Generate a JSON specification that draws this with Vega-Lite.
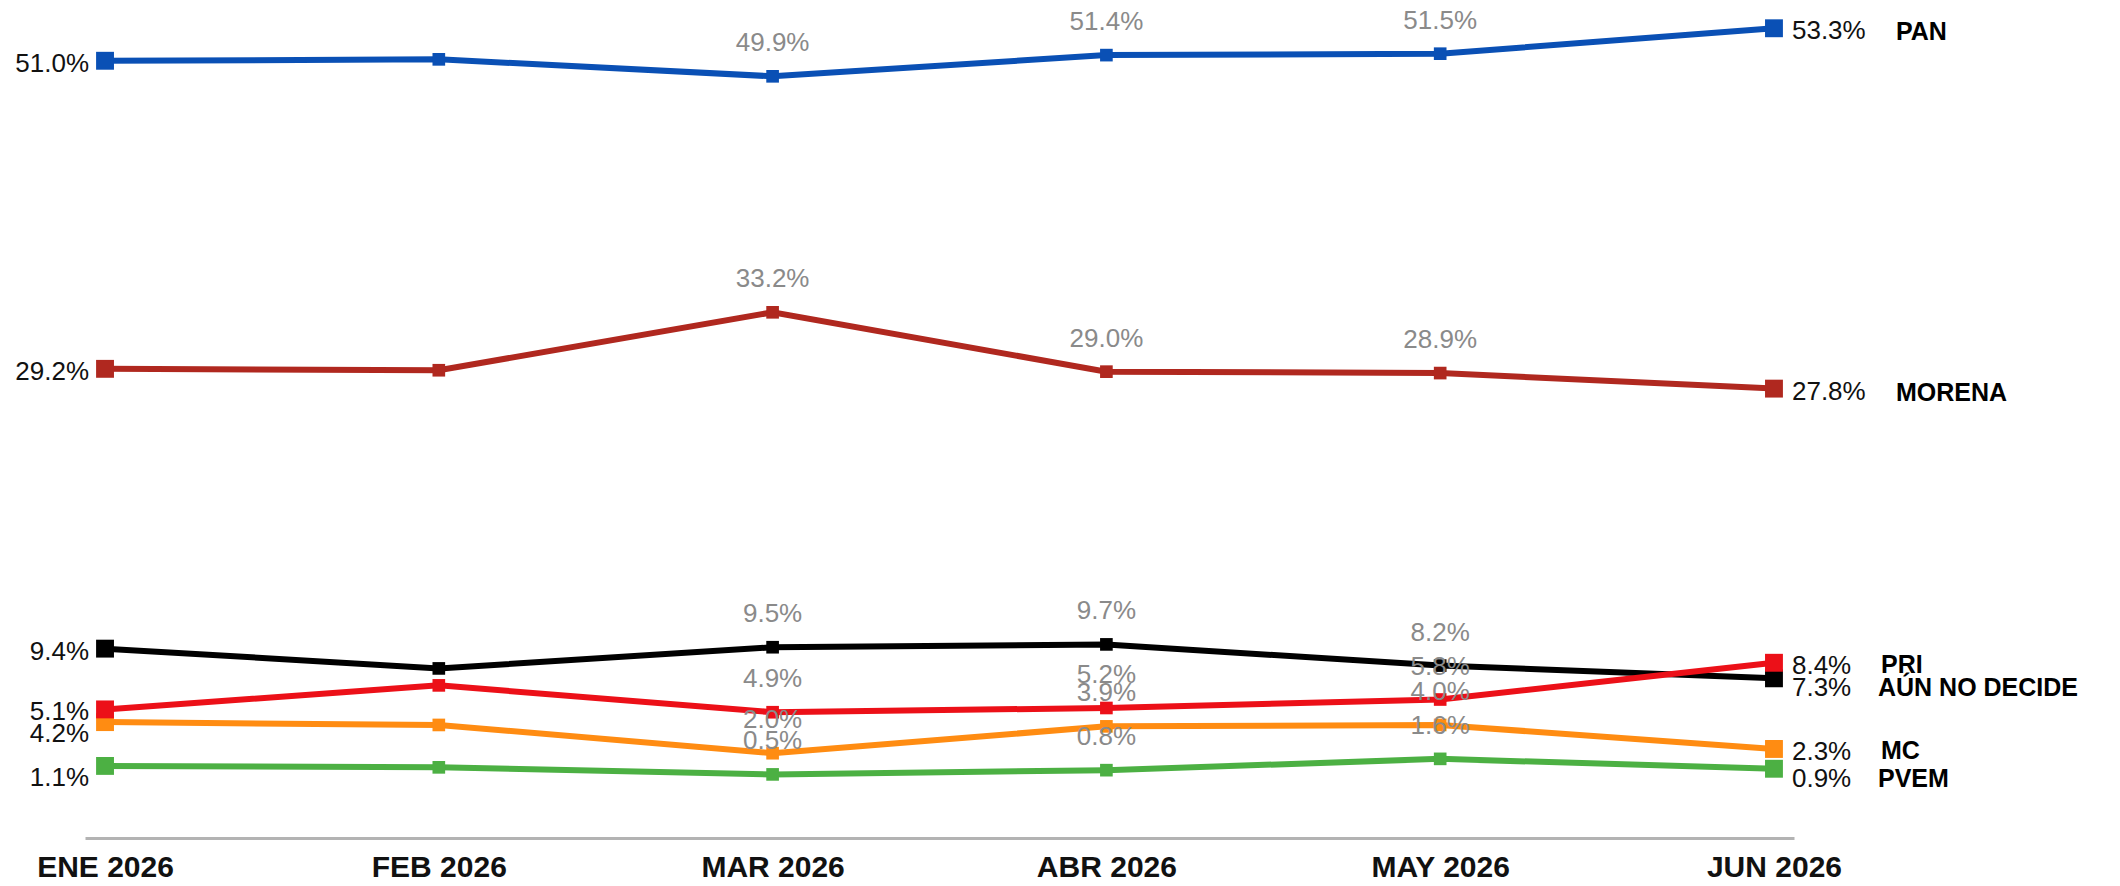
{
  "$schema": "https://vega.github.io/schema/vega-lite/v6.json",
  "width": 1709,
  "height": 838,
  "autosize": {"type": "none"},
  "padding": {"left": 85, "top": 0, "right": 326, "bottom": 48},
  "background": "white",
  "config": {"view": {"stroke": null}, "font": "Liberation Sans"},
  "data": {"values": [
    {"series": "PAN", "month": "ENE 2026", "value": 51.0, "label": "51.0%"},
    {"series": "PAN", "month": "FEB 2026", "value": 51.1, "label": "51.1%"},
    {"series": "PAN", "month": "MAR 2026", "value": 49.9, "label": "49.9%"},
    {"series": "PAN", "month": "ABR 2026", "value": 51.4, "label": "51.4%"},
    {"series": "PAN", "month": "MAY 2026", "value": 51.5, "label": "51.5%"},
    {"series": "PAN", "month": "JUN 2026", "value": 53.3, "label": "53.3%"},
    {"series": "MORENA", "month": "ENE 2026", "value": 29.2, "label": "29.2%"},
    {"series": "MORENA", "month": "FEB 2026", "value": 29.1, "label": "29.1%"},
    {"series": "MORENA", "month": "MAR 2026", "value": 33.2, "label": "33.2%"},
    {"series": "MORENA", "month": "ABR 2026", "value": 29.0, "label": "29.0%"},
    {"series": "MORENA", "month": "MAY 2026", "value": 28.9, "label": "28.9%"},
    {"series": "MORENA", "month": "JUN 2026", "value": 27.8, "label": "27.8%"},
    {"series": "AÚN NO DECIDE", "month": "ENE 2026", "value": 9.4, "label": "9.4%"},
    {"series": "AÚN NO DECIDE", "month": "FEB 2026", "value": 8.0, "label": "8.0%"},
    {"series": "AÚN NO DECIDE", "month": "MAR 2026", "value": 9.5, "label": "9.5%"},
    {"series": "AÚN NO DECIDE", "month": "ABR 2026", "value": 9.7, "label": "9.7%"},
    {"series": "AÚN NO DECIDE", "month": "MAY 2026", "value": 8.2, "label": "8.2%"},
    {"series": "AÚN NO DECIDE", "month": "JUN 2026", "value": 7.3, "label": "7.3%"},
    {"series": "MC", "month": "ENE 2026", "value": 4.2, "label": "4.2%"},
    {"series": "MC", "month": "FEB 2026", "value": 4.0, "label": "4.0%"},
    {"series": "MC", "month": "MAR 2026", "value": 2.0, "label": "2.0%"},
    {"series": "MC", "month": "ABR 2026", "value": 3.9, "label": "3.9%"},
    {"series": "MC", "month": "MAY 2026", "value": 4.0, "label": "4.0%"},
    {"series": "MC", "month": "JUN 2026", "value": 2.3, "label": "2.3%"},
    {"series": "PVEM", "month": "ENE 2026", "value": 1.1, "label": "1.1%"},
    {"series": "PVEM", "month": "FEB 2026", "value": 1.0, "label": "1.0%"},
    {"series": "PVEM", "month": "MAR 2026", "value": 0.5, "label": "0.5%"},
    {"series": "PVEM", "month": "ABR 2026", "value": 0.8, "label": "0.8%"},
    {"series": "PVEM", "month": "MAY 2026", "value": 1.6, "label": "1.6%"},
    {"series": "PVEM", "month": "JUN 2026", "value": 0.9, "label": "0.9%"},
    {"series": "PRI", "month": "ENE 2026", "value": 5.1, "label": "5.1%"},
    {"series": "PRI", "month": "FEB 2026", "value": 6.8, "label": "6.8%"},
    {"series": "PRI", "month": "MAR 2026", "value": 4.9, "label": "4.9%"},
    {"series": "PRI", "month": "ABR 2026", "value": 5.2, "label": "5.2%"},
    {"series": "PRI", "month": "MAY 2026", "value": 5.8, "label": "5.8%"},
    {"series": "PRI", "month": "JUN 2026", "value": 8.4, "label": "8.4%"}
  ]},
  "encoding": {
    "x": {
      "field": "month", "type": "ordinal",
      "scale": {"type": "point", "padding": 0.06, "domain": ["ENE 2026", "FEB 2026", "MAR 2026", "ABR 2026", "MAY 2026", "JUN 2026"]},
      "axis": {
        "title": null, "ticks": false, "grid": false,
        "domainColor": "#b3b3b3", "domainWidth": 3,
        "labelFont": "Liberation Sans", "labelFontWeight": "bold", "labelFontSize": 30,
        "labelColor": "#111111", "labelPadding": 14, "labelAngle": 0
      }
    },
    "y": {
      "field": "value", "type": "quantitative",
      "scale": {"domain": [-4, 55.3], "nice": false, "zero": false},
      "axis": null
    }
  },
  "layer": [
    {
      "mark": {"type": "line", "strokeWidth": 6},
      "encoding": {
        "color": {
          "field": "series", "type": "nominal", "legend": null,
          "scale": {
            "domain": ["PAN", "MORENA", "AÚN NO DECIDE", "MC", "PVEM", "PRI"],
            "range": ["#0a50b5", "#b0281f", "#000000", "#ff8c12", "#4cb043", "#ec1018"]
          }
        }
      }
    },
    {
      "transform": [{"filter": "datum.month != 'ENE 2026' && datum.month != 'JUN 2026'"}],
      "mark": {"type": "point", "shape": "square", "filled": true, "opacity": 1, "size": 160},
      "encoding": {"color": {"field": "series", "type": "nominal", "legend": null}}
    },
    {
      "transform": [{"filter": "datum.month == 'ENE 2026' || datum.month == 'JUN 2026'"}],
      "mark": {"type": "point", "shape": "square", "filled": true, "opacity": 1, "size": 320},
      "encoding": {"color": {"field": "series", "type": "nominal", "legend": null}}
    },
    {
      "transform": [{"filter": "datum.month == 'MAR 2026' || datum.month == 'ABR 2026' || datum.month == 'MAY 2026'"}],
      "mark": {"type": "text", "dy": -33, "fontSize": 26, "color": "#8a8a8a", "align": "center", "baseline": "middle"},
      "encoding": {"text": {"field": "label"}}
    },
    {
      "transform": [{"filter": "datum.month == 'ENE 2026' && datum.series != 'MC' && datum.series != 'PVEM'"}],
      "mark": {"type": "text", "dx": -16, "dy": 3, "fontSize": 26, "color": "#111111", "align": "right", "baseline": "middle"},
      "encoding": {"text": {"field": "label"}}
    },
    {
      "transform": [{"filter": "datum.month == 'ENE 2026' && (datum.series == 'MC' || datum.series == 'PVEM')"}],
      "mark": {"type": "text", "dx": -16, "dy": 12, "fontSize": 26, "color": "#111111", "align": "right", "baseline": "middle"},
      "encoding": {"text": {"field": "label"}}
    },
    {
      "transform": [{"filter": "datum.month == 'JUN 2026' && datum.series != 'AÚN NO DECIDE' && datum.series != 'PVEM'"}],
      "mark": {"type": "text", "dx": 18, "dy": 3, "fontSize": 26, "color": "#111111", "align": "left", "baseline": "middle"},
      "encoding": {"text": {"field": "label"}}
    },
    {
      "transform": [{"filter": "datum.month == 'JUN 2026' && (datum.series == 'AÚN NO DECIDE' || datum.series == 'PVEM')"}],
      "mark": {"type": "text", "dx": 18, "dy": 10, "fontSize": 26, "color": "#111111", "align": "left", "baseline": "middle"},
      "encoding": {"text": {"field": "label"}}
    },
    {
      "transform": [{"filter": "datum.month == 'JUN 2026' && (datum.series == 'PAN' || datum.series == 'MORENA')"}],
      "mark": {"type": "text", "dx": 122, "dy": 4, "fontSize": 25, "fontWeight": "bold", "color": "#000000", "align": "left", "baseline": "middle"},
      "encoding": {"text": {"field": "series"}}
    },
    {
      "transform": [{"filter": "datum.month == 'JUN 2026' && (datum.series == 'PRI' || datum.series == 'MC')"}],
      "mark": {"type": "text", "dx": 107, "dy": 2, "fontSize": 25, "fontWeight": "bold", "color": "#000000", "align": "left", "baseline": "middle"},
      "encoding": {"text": {"field": "series"}}
    },
    {
      "transform": [{"filter": "datum.month == 'JUN 2026' && (datum.series == 'AÚN NO DECIDE' || datum.series == 'PVEM')"}],
      "mark": {"type": "text", "dx": 104, "dy": 10, "fontSize": 25, "fontWeight": "bold", "color": "#000000", "align": "left", "baseline": "middle"},
      "encoding": {"text": {"field": "series"}}
    }
  ]
}
